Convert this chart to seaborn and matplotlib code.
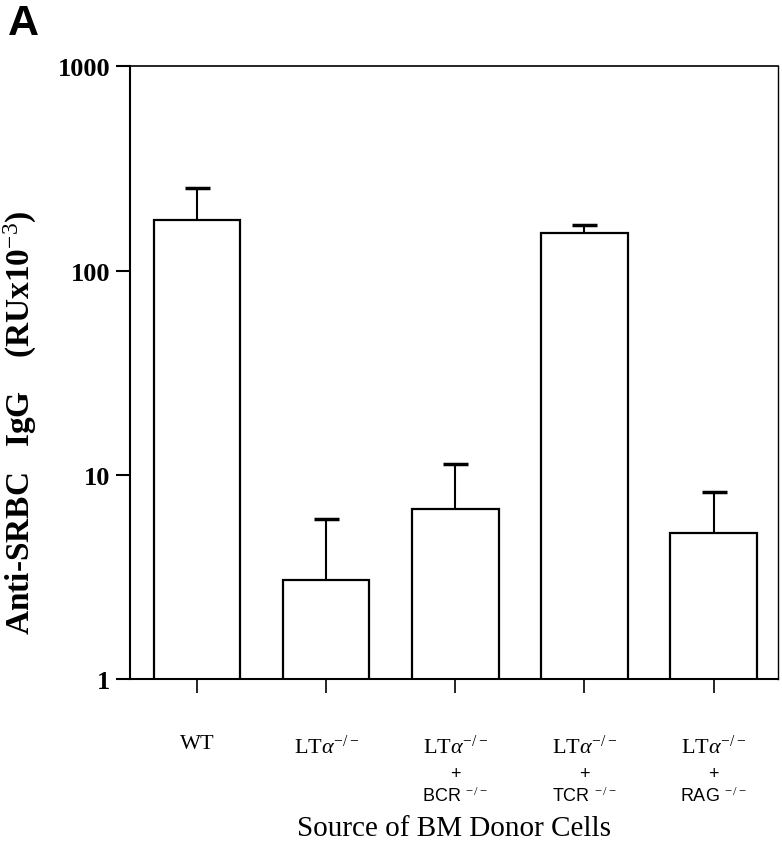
import matplotlib
matplotlib.use("Agg")
import matplotlib.pyplot as plt
import matplotlib.transforms as mtransforms
import numpy as np
import pandas as pd
import seaborn as sns

# values (RU x 10^-3), log axis
groups = ["WT", "LTa", "LTa+BCR", "LTa+TCR", "LTa+RAG"]
means = [177, 3.05, 6.8, 152, 5.2]
upper = [253, 6.05, 11.3, 167, 8.2]  # top of the error bar

first_line = ["WT", r"LT$\alpha^{-/-}$", r"LT$\alpha^{-/-}$", r"LT$\alpha^{-/-}$", r"LT$\alpha^{-/-}$"]
second_line = ["", "", "BCR", "TCR", "RAG"]

df = pd.DataFrame({"group": groups, "value": means})

sns.set_style("ticks")
plt.rcParams["font.family"] = ["Liberation Serif", "DejaVu Serif"]
plt.rcParams["mathtext.fontset"] = "custom"
plt.rcParams["mathtext.rm"] = "Liberation Serif"
plt.rcParams["mathtext.it"] = "Liberation Serif:italic"
plt.rcParams["text.color"] = "black"
plt.rcParams["axes.labelcolor"] = "black"
plt.rcParams["xtick.color"] = "black"
plt.rcParams["ytick.color"] = "black"
plt.rcParams["axes.edgecolor"] = "black"

fig = plt.figure(figsize=(7.82, 8.53), dpi=100)
ax = fig.add_axes([0.166, 0.203, 0.829, 0.718])

sns.barplot(data=df, x="group", y="value", color="white", edgecolor="black",
            linewidth=1.6, width=0.67, ax=ax, errorbar=None)
ax.set_yscale("log")

lo = np.zeros(len(means))
hi = np.array(upper) - np.array(means)
_, caps, _ = ax.errorbar(range(len(means)), means, yerr=[lo, hi], fmt="none",
                         ecolor="black", elinewidth=1.5, capsize=9, capthick=2.5)
# only keep the upper caps
for cap in caps:
    if np.allclose(cap.get_ydata(), means):
        cap.set_visible(False)

ax.set_ylim(1, 1000)
ax.set_xlim(-0.52, 4.5)
ax.set_yticks([1, 10, 100, 1000])
ax.set_yticklabels(["1", "10", "100", "1000"], fontsize=19, fontweight="bold")
ax.minorticks_off()
ax.tick_params(axis="y", length=10, width=1.5, pad=4, direction="out")
ax.tick_params(axis="x", length=10, width=1.2, pad=30, direction="out")
ax.set_xticks(range(len(groups)))
ax.set_xticklabels(first_line, fontsize=16)

for s in ["left", "bottom", "top", "right"]:
    ax.spines[s].set_visible(True)
    ax.spines[s].set_linewidth(1.5)
ax.spines["right"].set_linewidth(1.0)
ax.spines["top"].set_linewidth(1.2)

trans = mtransforms.blended_transform_factory(ax.transData, ax.transAxes)
for i, name in enumerate(second_line):
    if not name:
        continue
    ax.text(i, -0.155, "+", transform=trans, ha="center", va="center",
            fontsize=13, family="Liberation Sans")
    ax.text(i, -0.19, name + r"$^{\ -/-}$", transform=trans, ha="center", va="center",
            fontsize=13, family="Liberation Sans")

ax.set_xlabel("Source of BM Donor Cells", fontsize=21)
ax.xaxis.set_label_coords(0.5, -0.222)
ax.set_ylabel(r"Anti-SRBC   IgG    (RUx10$^{-3}$)", fontsize=24, fontweight="bold")
ax.yaxis.set_label_coords(-0.14, 0.42)

fig.text(0.01, 0.995, "A", fontsize=31, fontweight="bold", family="Liberation Sans",
         ha="left", va="top")

fig.savefig("out.png", dpi=100)
